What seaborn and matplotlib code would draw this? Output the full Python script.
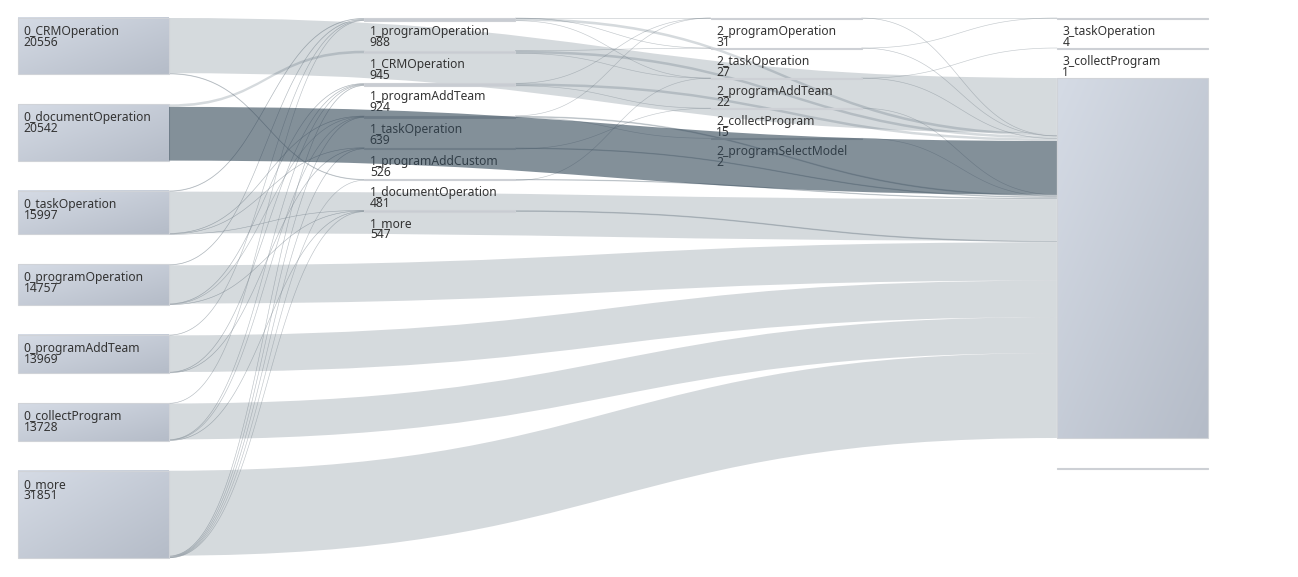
import numpy as np
import matplotlib.pyplot as plt
import seaborn as sns
from matplotlib.path import Path
from matplotlib.patches import PathPatch, Rectangle

sns.set_theme(style='white')
plt.rcParams['font.family'] = ['Noto Sans', 'DejaVu Sans']

# ---------------- data ----------------
col0_names = ['0_CRMOperation', '0_documentOperation', '0_taskOperation', '0_programOperation',
              '0_programAddTeam', '0_collectProgram', '0_more']
col0_values = [20556, 20542, 15997, 14757, 13969, 13728, 31851]

col1_names = ['1_programOperation', '1_CRMOperation', '1_programAddTeam', '1_taskOperation',
              '1_programAddCustom', '1_documentOperation', '1_more']
col1_values = [988, 945, 924, 639, 526, 481, 547]

col2_names = ['2_programOperation', '2_taskOperation', '2_programAddTeam', '2_collectProgram',
              '2_programSelectModel']
col2_values = [31, 27, 22, 15, 2]

col3_names = ['3_taskOperation', '3_collectProgram', '3_end', '3_other']
col3_values = [4, 1, 131395, 0]

# nodes drawn without a label
unlabeled = ['3_end', '3_other']

link_source = [
    '0_CRMOperation', '0_documentOperation', '0_taskOperation', '0_programOperation',
    '0_programAddTeam', '0_collectProgram', '0_more',
    '0_CRMOperation', '0_documentOperation',
    '0_taskOperation', '0_taskOperation', '0_taskOperation', '0_taskOperation',
    '0_programOperation', '0_programOperation', '0_programOperation', '0_programOperation',
    '0_programAddTeam', '0_programAddTeam', '0_programAddTeam',
    '0_collectProgram', '0_collectProgram', '0_collectProgram', '0_collectProgram',
    '0_more', '0_more', '0_more', '0_more', '0_more',
    '1_programOperation', '1_programOperation', '1_programOperation',
    '1_CRMOperation', '1_CRMOperation', '1_programAddTeam', '1_programAddTeam',
    '1_taskOperation', '1_taskOperation', '1_programAddCustom', '1_documentOperation',
    '1_programOperation', '1_CRMOperation', '1_programAddTeam', '1_taskOperation',
    '1_programAddCustom', '1_documentOperation', '1_more',
    '2_programOperation', '2_taskOperation', '2_programAddTeam',
    '2_programOperation', '2_taskOperation', '2_programAddTeam', '2_collectProgram',
    '2_programSelectModel',
]
link_target = [
    '3_end', '3_end', '3_end', '3_end', '3_end', '3_end', '3_end',
    '1_documentOperation', '1_CRMOperation',
    '1_programOperation', '1_taskOperation', '1_programAddCustom', '1_more',
    '1_programOperation', '1_programAddTeam', '1_taskOperation', '1_more',
    '1_programOperation', '1_programAddTeam', '1_programAddCustom',
    '1_programOperation', '1_programAddTeam', '1_taskOperation', '1_more',
    '1_programAddTeam', '1_taskOperation', '1_programAddCustom', '1_documentOperation', '1_more',
    '2_programOperation', '2_taskOperation', '2_programAddTeam',
    '2_taskOperation', '2_programAddTeam', '2_programOperation', '2_collectProgram',
    '2_programOperation', '2_programSelectModel', '2_collectProgram', '2_programAddTeam',
    '3_end', '3_end', '3_end', '3_end', '3_end', '3_end', '3_end',
    '3_taskOperation', '3_taskOperation', '3_collectProgram',
    '3_end', '3_end', '3_end', '3_end', '3_end',
]
link_value = [
    20136, 19597, 15171, 13977, 13369, 13110, 30990,
    420, 945,
    380, 200, 146, 100,
    300, 230, 100, 150,
    180, 220, 200,
    128, 190, 130, 170,
    284, 209, 180, 61, 127,
    9, 15, 8,
    12, 6, 12, 9,
    10, 2, 6, 8,
    956, 927, 903, 627, 520, 473, 547,
    2, 2, 1,
    29, 25, 21, 15, 2,
]
highlight = ('0_documentOperation', '3_end')

# ---------------- layout ----------------
columns = [(col0_names, col0_values), (col1_names, col1_values),
           (col2_names, col2_values), (col3_names, col3_values)]
top, bottom = 18, 558
left, node_w, col_step, gap = 18, 151, 346.3, 30

k = min((bottom - top - gap * (len(v) - 1)) / sum(v) for _, v in columns)

node = {}
for ci, (names, values) in enumerate(columns):
    y = top
    for n, v in zip(names, values):
        h = v * k
        node[n] = dict(x=left + ci * col_step, y=y, h=h, v=v)
        y += h + gap

links = list(zip(link_source, link_target, link_value))
out_off = {n: 0.0 for n in node}
in_off = {n: 0.0 for n in node}
src_pos, tgt_pos = {}, {}
for n in node:
    outs = sorted([i for i, l in enumerate(links) if l[0] == n], key=lambda i: node[links[i][1]]['y'])
    for i in outs:
        src_pos[i] = node[n]['y'] + out_off[n]
        out_off[n] += links[i][2] * k
    ins = sorted([i for i, l in enumerate(links) if l[1] == n], key=lambda i: node[links[i][0]]['y'])
    for i in ins:
        tgt_pos[i] = node[n]['y'] + in_off[n]
        in_off[n] += links[i][2] * k

# ---------------- draw ----------------
fig = plt.figure(figsize=(12.98, 5.77), dpi=100)
ax = fig.add_axes([0, 0, 1, 1])
link_color = '#314656'


def bez(x0, y0, x1, y1, t):
    xm = (x0 + x1) / 2
    bx = (1 - t) ** 3 * x0 + 3 * (1 - t) ** 2 * t * xm + 3 * (1 - t) * t ** 2 * xm + t ** 3 * x1
    by = (1 - t) ** 3 * y0 + 3 * (1 - t) ** 2 * t * y0 + 3 * (1 - t) * t ** 2 * y1 + t ** 3 * y1
    return bx, by


for i, (s, t, v) in enumerate(links):
    x0 = node[s]['x'] + node_w
    x1 = node[t]['x']
    y0, y1 = src_pos[i], tgt_pos[i]
    w = v * k
    xm = (x0 + x1) / 2
    verts = [(x0, y0), (xm, y0), (xm, y1), (x1, y1),
             (x1, y1 + w), (xm, y1 + w), (xm, y0 + w), (x0, y0 + w), (x0, y0)]
    codes = [Path.MOVETO, Path.CURVE4, Path.CURVE4, Path.CURVE4,
             Path.LINETO, Path.CURVE4, Path.CURVE4, Path.CURVE4, Path.CLOSEPOLY]
    hl = (s, t) == highlight
    ax.add_patch(PathPatch(Path(verts, codes), facecolor=link_color, edgecolor='none',
                           alpha=0.6 if hl else 0.2, zorder=4 if hl else 1))
    if w < 2:
        # very thin links still show as a faint hairline
        tt = np.linspace(0, 1, 80)
        bx, by = bez(x0, y0 + w / 2, x1, y1 + w / 2, tt)
        ax.plot(bx, by, color='#7f8a93', lw=0.45, alpha=0.45, zorder=1)

node_cmap = sns.blend_palette(['#d5dbe5', '#b5bcc8'], as_cmap=True)
uu, vv = np.meshgrid(np.linspace(0, 1, 64), np.linspace(0, 1, 64))
grad = (uu + vv) / 2
for n, d in node.items():
    x, y, h = d['x'], d['y'], d['h']
    if h > 4:
        ax.imshow(grad, cmap=node_cmap, vmin=0, vmax=1, extent=(x, x + node_w, y + h, y),
                  origin='upper', aspect='auto', interpolation='bilinear', zorder=2)
        ax.add_patch(Rectangle((x, y), node_w, h, fill=False, ec='#d0d3d8', lw=0.8, zorder=2.5))
    else:
        ax.add_patch(Rectangle((x, y), node_w, max(h, 0.6), fc='#c8ccd2', ec='#cdd0d5',
                               lw=0.8, zorder=2.5))
    if n not in unlabeled:
        ax.text(x + 5.5, y + 17, n, fontsize=8.7, color='#333333', va='baseline', zorder=3)
        ax.text(x + 5.5, y + 28, str(d['v']), fontsize=8.7, color='#333333', va='baseline', zorder=3)

ax.set_xlim(0, 1298)
ax.set_ylim(577, 0)
ax.axis('off')
fig.savefig('out.png', dpi=100)
